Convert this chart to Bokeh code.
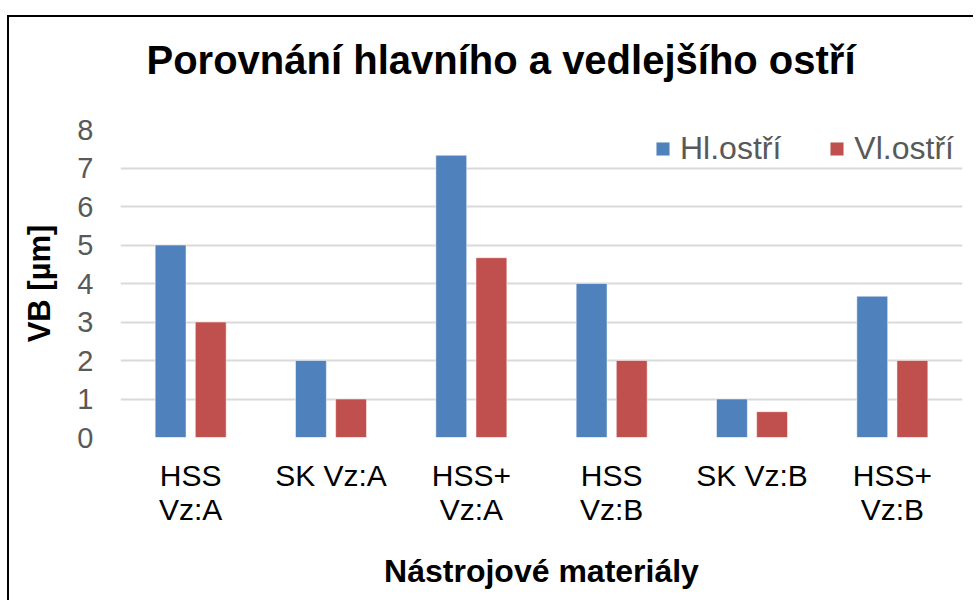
from bokeh.plotting import figure
from bokeh.models import FactorRange, FixedTicker, Legend, LegendItem, ColumnDataSource, Title
from bokeh.transform import dodge
from bokeh.embed import file_html
from bokeh.resources import INLINE

categories = ["HSS\nVz:A", "SK Vz:A", "HSS+\nVz:A", "HSS\nVz:B", "SK Vz:B", "HSS+\nVz:B"]
hl_ostri = [5, 2, 7.33, 4, 1, 3.67]
vl_ostri = [3, 1, 4.67, 2, 0.67, 2]
series_names = ["Hl.ostří", "Vl.ostří"]
y_ticks = [0, 1, 2, 3, 4, 5, 6, 7, 8]

FONT = "Liberation Sans"
BLUE = "#4F81BD"
RED = "#C0504D"

src = ColumnDataSource(dict(cat=categories, hl=hl_ostri, vl=vl_ostri))

p = figure(x_range=FactorRange(*categories, range_padding=0), y_range=(0, 8),
           width=966, height=585, output_backend="svg", toolbar_location=None,
           min_border_left=111, min_border_right=13, min_border_top=112, min_border_bottom=165)
p.margin = (15, 0, 0, 7)
p.styles = {"border-top": "2px solid #000000", "border-left": "2px solid #000000"}

p.title.text = ""
spacer = Title(text=" ", text_font=FONT, text_font_size="10px", standoff=35)
p.add_layout(spacer, "above")
t = Title(text="Porovnání hlavního a vedlejšího ostří", align="left", offset=26,
          text_font=FONT, text_font_size="40px", text_font_style="bold", text_color="#000000",
          standoff=0)
p.add_layout(t, "above")

r1 = p.vbar(x=dodge("cat", -0.143, range=p.x_range), top="hl", width=0.22, source=src,
            fill_color=BLUE, line_color="#ffffff", line_alpha=0.5, line_width=1)
r2 = p.vbar(x=dodge("cat", 0.143, range=p.x_range), top="vl", width=0.22, source=src,
            fill_color=RED, line_color="#ffffff", line_alpha=0.5, line_width=1)

p.outline_line_color = None
p.background_fill_color = "white"
p.border_fill_color = "white"

p.xgrid.grid_line_color = None
p.ygrid.grid_line_color = "#D9D9D9"
p.ygrid.grid_line_width = 2
p.yaxis.ticker = FixedTicker(ticks=y_ticks)

p.yaxis.axis_line_color = None
p.yaxis.major_tick_line_color = None
p.yaxis.minor_tick_line_color = None
p.yaxis.major_tick_out = 0
p.yaxis.major_label_standoff = 27
p.yaxis.major_label_text_font = FONT
p.yaxis.major_label_text_font_size = "29px"
p.yaxis.major_label_text_color = "#595959"
p.yaxis.axis_label = "VB [µm]"
p.yaxis.axis_label_text_font = FONT
p.yaxis.axis_label_text_font_size = "31px"
p.yaxis.axis_label_text_font_style = "bold"
p.yaxis.axis_label_text_color = "#000000"
p.yaxis.axis_label_standoff = 17

p.xaxis.axis_line_color = None
p.xaxis.major_tick_line_color = None
p.xaxis.minor_tick_line_color = None
p.xaxis.major_tick_out = 0
p.xaxis.major_label_standoff = 21
p.xaxis.major_label_text_font = FONT
p.xaxis.major_label_text_font_size = "30px"
p.xaxis.major_label_text_color = "#000000"
p.xaxis.major_label_text_line_height = 1.05
p.xaxis.axis_label = "Nástrojové materiály"
p.xaxis.axis_label_text_font = FONT
p.xaxis.axis_label_text_font_size = "32px"
p.xaxis.axis_label_text_font_style = "bold"
p.xaxis.axis_label_text_color = "#000000"
p.xaxis.axis_label_standoff = 24

legend = Legend(items=[LegendItem(label=series_names[0], renderers=[r1]),
                       LegendItem(label=series_names[1], renderers=[r2])],
                orientation="horizontal", location=(534, 270),
                padding=0, margin=0, spacing=47, label_standoff=9,
                glyph_width=17, glyph_height=17,
                label_text_font=FONT, label_text_font_size="32px", label_text_color="#595959",
                border_line_color=None, background_fill_alpha=0)
p.add_layout(legend)

open("out.html", "w").write(file_html(p, INLINE))
